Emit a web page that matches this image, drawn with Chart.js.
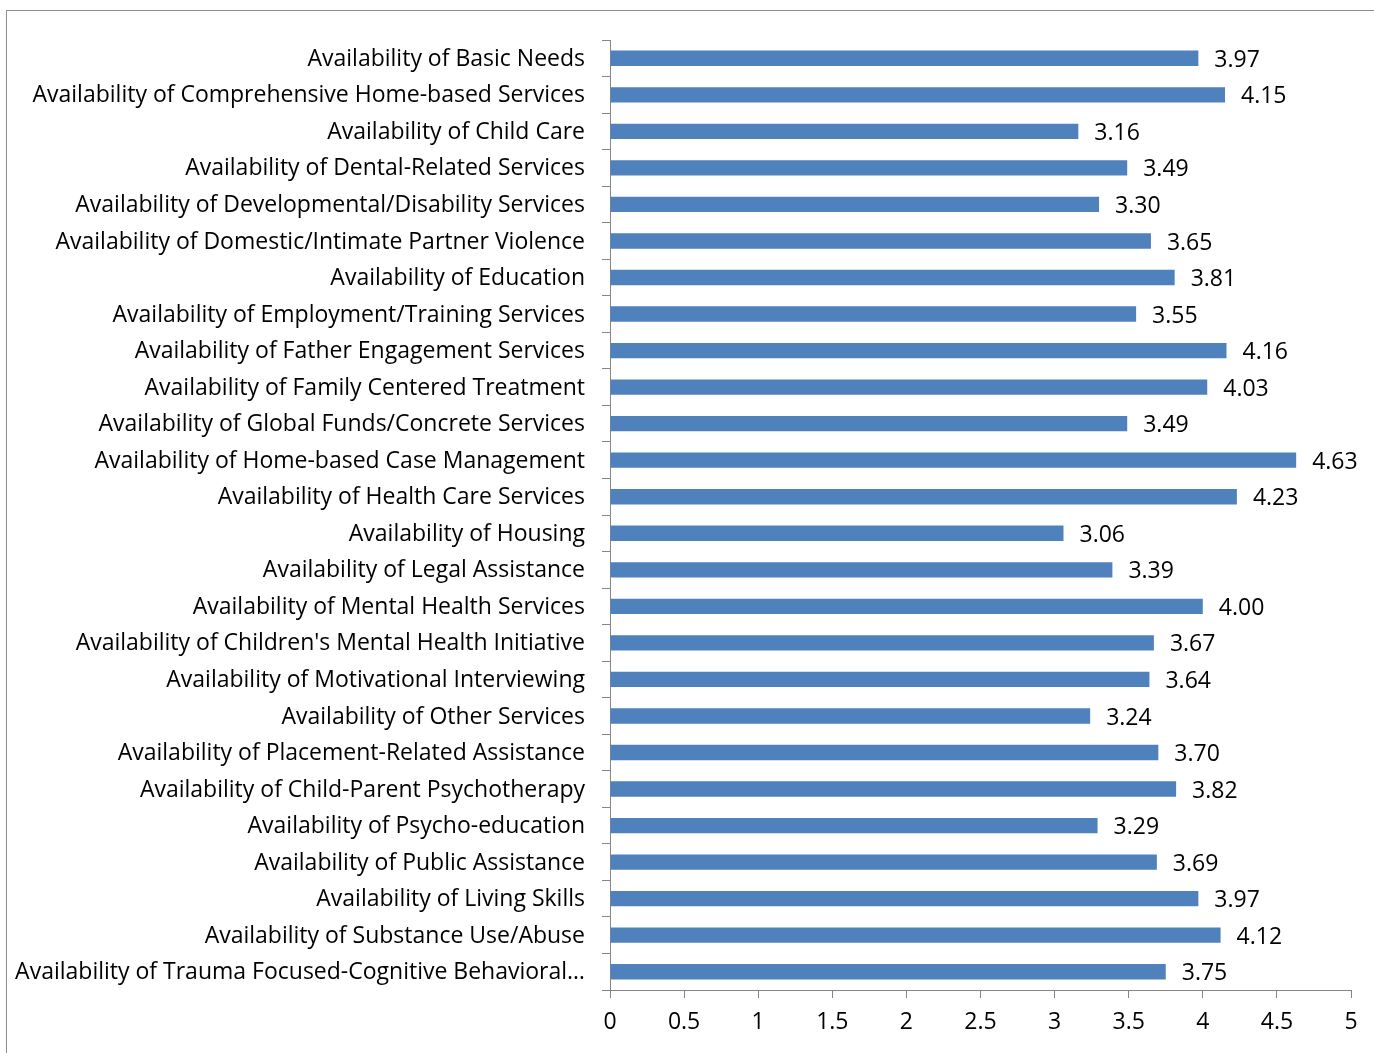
<!DOCTYPE html>
<html lang="en">
<head>
  <meta charset="UTF-8">
  <title>Availability of Services</title>
  <script src="https://cdn.jsdelivr.net/npm/chart.js"></script>
  <style>
    body {
      margin: 0;
      padding: 0;
      background: white;
      overflow: hidden;
    }
    .frame {
      position: absolute;
      left: 6px;
      top: 10px;
      width: 1420px;
      height: 1100px;
      border: 1px solid #8c8c8c;
    }
    .chart-box {
      position: absolute;
      left: 0;
      top: 0;
      width: 1374px;
      height: 1053px;
    }
  </style>
</head>
<body>
  <div class="frame"></div>
  <div class="chart-box">
    <canvas id="servicesChart"></canvas>
  </div>

  <script>
    const categories = [
      "Availability of Basic Needs",
      "Availability of Comprehensive Home-based Services",
      "Availability of Child Care",
      "Availability of Dental-Related Services",
      "Availability of Developmental/Disability Services",
      "Availability of Domestic/Intimate Partner Violence",
      "Availability of Education",
      "Availability of Employment/Training Services",
      "Availability of Father Engagement Services",
      "Availability of Family Centered Treatment",
      "Availability of Global Funds/Concrete Services",
      "Availability of Home-based Case Management",
      "Availability of Health Care Services",
      "Availability of Housing",
      "Availability of Legal Assistance",
      "Availability of Mental Health Services",
      "Availability of Children's Mental Health Initiative",
      "Availability of Motivational Interviewing",
      "Availability of Other Services",
      "Availability of Placement-Related Assistance",
      "Availability of Child-Parent Psychotherapy",
      "Availability of Psycho-education",
      "Availability of Public Assistance",
      "Availability of Living Skills",
      "Availability of Substance Use/Abuse",
      "Availability of Trauma Focused-Cognitive Behavioral…"
    ];
    const scores = [
      3.97, 4.15, 3.16, 3.49, 3.30, 3.65, 3.81, 3.55, 4.16, 4.03, 3.49, 4.63, 4.23,
      3.06, 3.39, 4.00, 3.67, 3.64, 3.24, 3.70, 3.82, 3.29, 3.69, 3.97, 4.12, 3.75
    ];
    const xMin = 0;
    const xMax = 5;
    const xStep = 0.5;

    const fontFamily = "'Open Sans', Lato, sans-serif";
    const fontSize = 23;

    // value labels at the end of each bar
    const valueLabels = {
      id: "valueLabels",
      afterDatasetsDraw(chart) {
        const ctx = chart.ctx;
        const meta = chart.getDatasetMeta(0);
        ctx.save();
        ctx.font = fontSize + "px " + fontFamily;
        ctx.fillStyle = "#000";
        ctx.textAlign = "left";
        ctx.textBaseline = "middle";
        meta.data.forEach((bar, i) => {
          ctx.fillText(scores[i].toFixed(2), bar.x + 16, bar.y + 2);
        });
        ctx.restore();
      }
    };

    new Chart(document.getElementById("servicesChart"), {
      type: "bar",
      data: {
        labels: categories,
        datasets: [{
          data: scores,
          backgroundColor: "#4f81bd",
          barPercentage: 0.42,
          categoryPercentage: 1
        }]
      },
      options: {
        indexAxis: "y",
        responsive: true,
        maintainAspectRatio: false,
        animation: false,
        layout: {
          padding: { top: 40, right: 23, bottom: 0, left: 0 }
        },
        plugins: {
          legend: { display: false },
          tooltip: { enabled: false }
        },
        scales: {
          x: {
            min: xMin,
            max: xMax,
            ticks: {
              stepSize: xStep,
              color: "#000",
              padding: 11,
              font: { family: fontFamily, size: fontSize },
              callback: v => String(v)
            },
            grid: {
              drawOnChartArea: false,
              color: "#868686",
              tickLength: 8
            },
            border: { color: "#868686", width: 1 },
            afterFit(scale) { scale.height = 63; }
          },
          y: {
            ticks: {
              color: "#000",
              padding: 17,
              labelOffset: 1,
              autoSkip: false,
              font: { family: fontFamily, size: fontSize }
            },
            grid: {
              drawOnChartArea: false,
              offset: true,
              color: "#868686",
              tickLength: 8
            },
            border: { color: "#868686", width: 1 },
            afterFit(scale) { scale.width = 610; }
          }
        }
      },
      plugins: [valueLabels]
    });
  </script>
</body>
</html>
